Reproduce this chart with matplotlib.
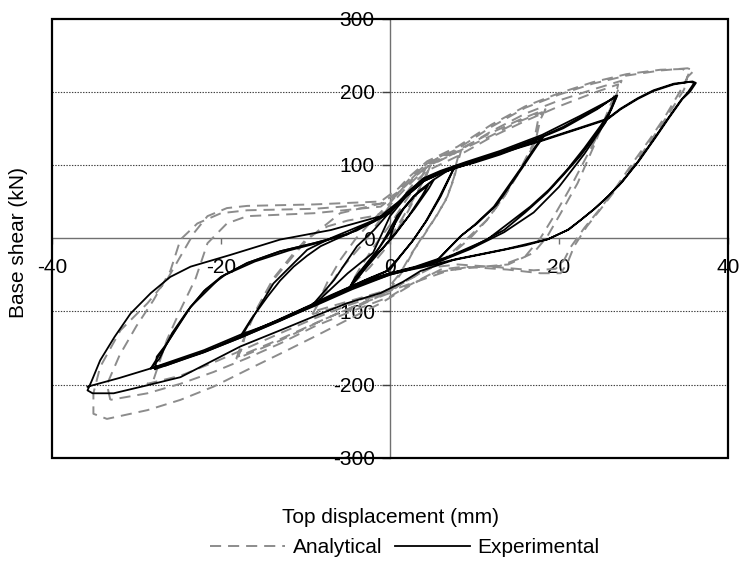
import matplotlib.pyplot as plt
from matplotlib.patches import Rectangle

plt.rcParams['font.family'] = ['Liberation Sans', 'DejaVu Sans']
plt.rcParams['lines.scale_dashes'] = False
plt.rcParams['axes.unicode_minus'] = False

# ---- Experimental hysteresis (top displacement mm, base shear kN) ----
exp_c1_x = [0, 0.85, 2.8, 4.5, 3.8, 2.2, 0.6, -0.7, -1.9, -3.4, -4.7, -4.2, -2.6, -1.2, 0, 1.6, 3.4, 5.2,
            4.6, 2.9, 1.0, -0.6, -2.2, -4.0, -4.9]
exp_c1_y = [0, 30, 57, 72, 58, 30, 5, -12, -25, -45, -66, -55, -32, -12, 8, 40, 64, 80,
            68, 40, 12, -10, -32, -56, -70]

exp_c2_x = [-4.9, -3.5, -1.9, -0.7, 0.85, 2.8, 5.2, 7.6, 8.1, 7.6, 6.0, 4.4, 2.8, 1.2, 0, -2.5, -5.0, -7.0,
            -9.2, -9.0, -6.6, -5.2, -3.9, -1.9, 0, 2.0, 4.0, 6.0, 8.0, 7.4, 5.8, 4.2, 2.6, 0.8, -0.5,
            -3.0, -6.0, -9.0]
exp_c2_y = [-70, -50, -25, -2, 30, 57, 80, 98, 100, 96, 57, 25, -2, -25, -43, -55, -68, -78,
            -90, -89, -57, -33, -11, 11, 36, 60, 80, 90, 99, 92, 55, 22, -5, -30, -46,
            -58, -74, -91]

exp_c3_x = [-9, -7.5, -5, -2, 0, 2, 4, 6, 8, 10, 13, 16, 18, 17.2, 15.4, 12.3, 10, 8.3, 5.6, 3, 0, -3, -5,
            -9, -13, -17.7, -16.5, -14.5, -13, -11.4, -9.8, -8.2, -6.5, -5.1, -2, 0, 2, 4, 6, 9, 13, 16,
            18.2, 17.4, 15.6, 12.6, 10.3, 8.5, 5.8, 3, 0, -3, -6, -9.5, -13.5, -17.5]
exp_c3_y = [-91, -75, -48, -20, 30, 58, 78, 88, 97, 103, 114, 127, 137, 125, 94, 43, 18, 2, -30, -40, -48, -58, -68,
            -90, -111, -134, -112, -80, -58, -39, -24, -11, -2, 5, 23, 36, 60, 80, 89, 100, 116, 129,
            139, 126, 95, 45, 20, 4, -28, -39, -48, -60, -74, -92, -113, -133]

exp_c4_x = [-17.5, -16.9, -13.8, -9.8, -7, -4.7, -2, 0, 2, 4, 6, 9, 13, 18, 20.5, 22.5, 24.5, 26.7,
            25.7, 24.2, 22.5, 20.5, 18.6, 16, 13.5, 9.5, 5.6, 2, 0, -4.3, -9, -13, -17.7, -22, -28.3,
            -27.6, -26.4, -25, -23.6, -21.8, -20, -16.9, -13, -9, -5.1, -2, 0, 2, 4, 6, 9, 13, 18,
            20.5, 22.5, 24.8, 26.9,
            26.2, 24.9, 23, 21, 18.8, 16.6, 14, 11.5, 7, 3, 0, -4.3, -9, -13, -17.7, -22, -26.5, -28.3]
exp_c4_y = [-133, -121, -62, -16, 0, 11, 24, 36, 60, 80, 90, 102, 116, 138, 150, 163, 176, 194,
            162, 138, 112, 86, 62, 35, 11, -14, -32, -44, -50, -67, -92, -113, -136, -156, -178,
            -165, -144, -118, -94, -70, -53, -34, -18, -7, 5, 23, 37, 61, 81, 91, 103, 117, 139,
            152, 165, 179, 195,
            176, 153, 123, 94, 66, 43, 20, -2, -25, -40, -49, -66, -91, -112, -134, -155, -174, -178]

# third repetition at the 27 mm level
exp_c4b_x = [-28.3, -27.3, -25.8, -24, -22, -19.5, -16, -12, -8, -4, 0, 2, 4, 6, 9, 13, 18, 22.5, 24.8, 26.8,
             25.5, 23, 20, 17, 13.5, 9.5, 5.6, 0, -4.5, -9, -13.5, -17.7, -22.5, -27.8]
exp_c4b_y = [-178, -165, -130, -100, -72, -50, -32, -17, -5, 10, 34, 62, 82, 92, 104, 119, 141, 167, 181, 193,
             158, 115, 70, 35, 8, -15, -33, -50, -70, -93, -115, -136, -158, -179]

exp_c5_x = [-27.8, -27.6, -26.4, -23.6, -20, -16.9, -13, -9, -5.1, -2, 0, 2, 4, 7, 10, 14, 18, 22, 25.7,
            27.3, 29.3, 31.2, 33.6, 35.5, 36,
            35.3, 34.4, 32.8, 31.2, 29.3, 27.3, 25.7, 24.1, 22.5, 21, 18.6, 16, 13.5, 10.5, 7.5, 3.6, 1.5,
            -1.1, -5.1, -9, -13, -17.7, -20.9, -24.8, -28.7, -32.7, -35.2, -35.8,
            -35.3, -34.3, -32.6, -30.7, -28.3, -26, -23.6, -18.9, -13, -7, -1.1, 0.5, 2, 4, 7, 10, 14,
            18, 22, 25.7, 27.3, 29.3, 31.2, 33.6, 35.8, 36.2,
            35.5, 34.6, 33, 31.4, 29.5, 27.5, 25.9, 24.3, 22.7, 21.2, 18.8, 13.7, 7.7, 3.8, 0, -4.3, -9,
            -13, -17.7, -22, -28.3, -32, -35.8]
exp_c5_y = [-179, -162, -144, -94, -53, -34, -18, -7, 5, 22, 35, 58, 78, 94, 104, 119, 133, 148, 162,
            176, 190, 201, 210, 213.5, 212,
            200, 188, 162, 135, 104, 75, 56, 39, 24, 11, -2, -10, -16, -23, -30, -45, -60,
            -75, -89, -107, -126, -148, -167, -190, -201, -212, -212, -208,
            -195, -167, -135, -103, -75, -53, -39, -23, -2, 11, 30, 45, 58, 78, 95, 105, 120,
            134, 149, 163, 177, 191, 202, 211, 214, 212,
            200, 190, 164, 137, 106, 77, 58, 41, 26, 12, -1, -15, -29, -40, -49, -66, -91,
            -112, -132, -153, -178, -191, -203]

# ---- Analytical hysteresis ----
ana_c1_x = [0, 1.5, 3.0, 4.4, 4.8, 3.6, 2.2, 0.8, -0.8, -2.4, -4.0, -4.6, -3.4, -1.8, 0, 1.8, 3.6]
ana_c1_y = [0, 28, 58, 88, 100, 70, 38, 10, -18, -40, -58, -62, -38, -10, 18, 50, 80]

ana_c2_x = [3.6, 4.4, 6.0, 8.2, 7.8, 7.6, 6.8, 5.5, 4.0, 2.8, 1.5, 0, -3, -6, -9, -8.4, -7.4, -5.9,
            -4.0, -2.0, 0, 2.0, 4.4, 6.2, 8.4, 8.0, 7.6, 6.6, 5.2, 3.8, 2.6, 1.2, -0.5, -3.5, -6.5, -9.2]
ana_c2_y = [80, 100, 112, 117, 100, 84, 57, 30, 5, -17, -45, -70, -80, -90, -100, -85, -60, -30,
            0, 25, 48, 75, 102, 113, 119, 102, 82, 52, 25, 0, -20, -48, -72, -84, -95, -104]

ana_c3_x = [-9.2, -8, -6, -3, 0, 2, 4.4, 8, 12, 15, 18, 17.5, 17, 15.4, 13.5, 11.5, 9.5, 7, 4, 1, 0, -4,
            -8, -13, -18, -17.5, -16.9, -13.8, -11.5, -9.8, -7.4, -5.9, -3, 0, 2.4, 4.4, 8, 12, 15.4,
            18.4, 17.8, 17.2, 15.6, 13.6, 11.4, 9, 6.5, 3.5, 0.5, -3.5, -8, -13, -18.2]
ana_c3_y = [-104, -80, -45, -5, 45, 70, 97, 118, 140, 158, 172, 160, 130, 94, 57, 25, 0, -25, -45, -65, -75, -92,
            -112, -138, -162, -150, -121, -57, -25, -2, 20, 34, 42, 50, 78, 99, 120, 144, 162,
            176, 162, 132, 96, 58, 24, -2, -28, -48, -68, -90, -112, -140, -165]

ana_c4_x = [-18.2, -17.4, -15.7, -13.8, -11.5, -9.8, -7.4, -5, -2, 0, 1.5, 2.8, 4.4, 8, 12, 16, 20, 24, 27,
            26.9, 25.7, 24.1, 22.2, 20.2, 18.6, 17, 14, 10, 7, 3, 0, -5, -9, -13, -16.9, -20.9, -24.8,
            -28.7,
            -28, -26.4, -24.8, -23, -21.6, -19.3, -16.9, -9, -1.1, 0.8, 2.4, 4.4, 8, 12, 16, 20, 24, 27.4,
            27.2, 26.2, 25, 23.2, 21.2, 19.4, 17.8, 16, 13, 9, 5, 2, 0, -5, -9, -13, -16.9, -20.9, -24.8,
            -28.7, -33.1]
ana_c4_y = [-165, -140, -95, -55, -22, 0, 16, 24, 30, 38, 55, 75, 92, 112, 138, 160, 180, 198, 210,
            205, 171, 125, 75, 34, 2, -20, -36, -40, -44, -60, -72, -92, -110, -130, -150, -170, -188,
            -199,
            -194, -139, -98, -55, -7, 20, 30, 34, 43, 60, 78, 98, 118, 146, 170, 188, 203, 215,
            208, 180, 150, 110, 66, 30, 0, -25, -38, -40, -48, -66, -80, -102, -121, -144, -164, -183, -199,
            -212, -221]

ana_c5_x = [-33.1, -33.5, -32, -30, -28, -26, -24.8, -22.8, -20, -16.9, -9, -1.1, 0.8, 2.4, 4.4, 8, 12, 16,
            20, 24, 28, 32, 35.2, 36,
            35.2, 34.8, 33, 31.2, 29.3, 27.3, 25.3, 23.3, 21.8, 21, 20.2, 17.8, 13.9, 8.7, 6, 2.8, -1.1,
            -5.1, -9, -13, -16.9, -20.9, -24.8, -28.7, -33.5, -35.1, -35.1, -34.3, -31.9, -28.7,
            -26.4, -24.8, -23.2, -21.6, -19.3, -16.9, -9, -1.1, 1, 2.4, 4.4, 8, 12, 16, 20, 24, 28, 32,
            34.6, 35.4,
            35, 34.2, 32.5, 30.8, 28.8, 26.9, 25, 23, 21.4, 20.6, 19.6, 17, 13, 8, 5, 2, -1, -5]
ana_c5_y = [-221, -200, -160, -120, -85, -45, -2, 20, 34, 38, 40, 47, 62, 82, 102, 122, 152, 178,
            196, 211, 222, 229, 232, 229,
            220, 203, 170, 139, 107, 75, 45, 16, -11, -34, -48, -48, -43, -39, -43, -62, -89,
            -112, -135, -158, -180, -203, -221, -235, -247, -240, -212, -176, -126, -89,
            -57, -25, 7, 30, 41, 44, 46, 50, 68, 85, 105, 125, 155, 180, 198, 213, 224, 230,
            231, 226,
            215, 198, 165, 136, 104, 72, 42, 14, -12, -30, -42, -44, -40, -36, -40, -58, -78, -100]

exp_loops = [(exp_c1_x, exp_c1_y), (exp_c2_x, exp_c2_y), (exp_c3_x, exp_c3_y),
             (exp_c4_x, exp_c4_y), (exp_c4b_x, exp_c4b_y), (exp_c5_x, exp_c5_y)]
ana_loops = [(ana_c1_x, ana_c1_y), (ana_c2_x, ana_c2_y), (ana_c3_x, ana_c3_y),
             (ana_c4_x, ana_c4_y), (ana_c5_x, ana_c5_y)]

fig = plt.figure(figsize=(7.41, 5.62), dpi=100)
ax = fig.add_axes([52 / 741, 1 - 457.7 / 562, 676 / 741, 439.2 / 562])

# dotted gridlines
for g in [-200, -100, 100, 200]:
    ax.axhline(g, color='#404040', lw=0.8, ls=(0, (1, 1)), zorder=1)

gray = '#8c8c8c'
for i, (x, y) in enumerate(ana_loops):
    ax.plot(x, y, color=gray, lw=1.4, dashes=(8, 5), zorder=2,
            label='Analytical' if i == 0 else None)
for i, (x, y) in enumerate(exp_loops):
    ax.plot(x, y, color='black', lw=1.3, zorder=3,
            label='Experimental' if i == 0 else None)

ax.set_xlim(-40, 40)
ax.set_ylim(-300, 300)
ax.set_xticks([-40, -20, 0, 20, 40])
ax.set_yticks([-300, -200, -100, 0, 100, 200, 300])

ax.spines['left'].set_position('zero')
ax.spines['bottom'].set_position('zero')
for s in ['left', 'bottom']:
    ax.spines[s].set_color('#707070')
    ax.spines[s].set_linewidth(1.0)
    ax.spines[s].set_zorder(1.5)
ax.spines['right'].set_visible(False)
ax.spines['top'].set_visible(False)
ax.add_patch(Rectangle((0, 0), 1, 1, transform=ax.transAxes, fill=False,
                       lw=1.6, ec='black', clip_on=False, zorder=5))

ax.tick_params(axis='y', direction='out', length=6, width=1, color='#404040', pad=5, labelsize=15)
ax.tick_params(axis='x', direction='out', length=4, width=1, color='#707070', pad=10, labelsize=15)

ax.set_xlabel('Top displacement (mm)', fontsize=15)
ax.set_ylabel('Base shear (kN)', fontsize=15)
ax.xaxis.set_label_coords(0.5, -0.115)
ax.yaxis.set_label_coords(-0.035, 0.49)

fig.legend(loc='center', bbox_to_anchor=(0.546, 0.025), ncol=2, frameon=False, fontsize=15,
           handlelength=3.6, handletextpad=0.35, columnspacing=0.6)

fig.savefig('out.png', dpi=100)
